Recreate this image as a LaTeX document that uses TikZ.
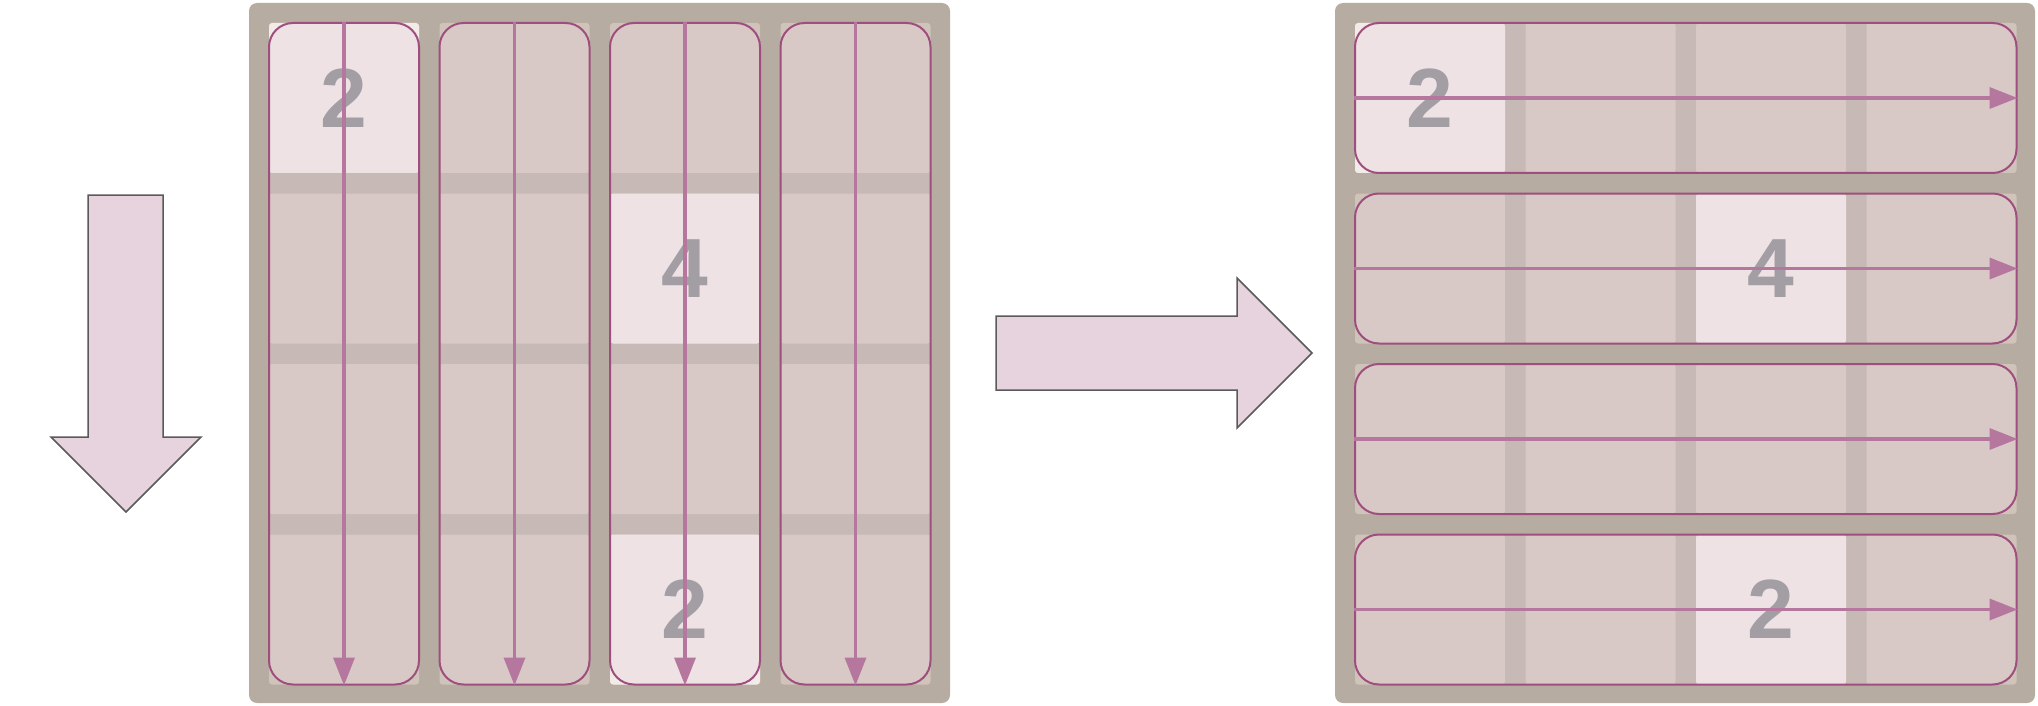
\documentclass[tikz,border=0pt]{standalone}
\usepackage{fontspec}
\setmainfont{Liberation Sans}
\usetikzlibrary{arrows.meta, positioning}

\definecolor{panelgray}{HTML}{B7ACA1}
\definecolor{cellbase}{HTML}{D0C3B9}
\definecolor{cellhot}{HTML}{F3EBE7}
\definecolor{lanefill}{HTML}{E7D3DF}
\definecolor{laneline}{HTML}{9E4F7E}
\definecolor{flowline}{HTML}{B5779E}
\definecolor{digitgray}{HTML}{A39DA4}
\definecolor{bigfill}{HTML}{E6D3DD}
\definecolor{bigline}{HTML}{5A5A5A}

\begin{document}
\begin{tikzpicture}[
        x=1pt, y=-1pt,
        panel/.style={fill=panelgray, rounded corners=8pt},
        cell/.style={rectangle, minimum size=150pt, inner sep=0pt, rounded corners=3pt, fill=cellbase},
        hot/.style={fill=cellhot},
        lane/.style={rectangle, draw=laneline, line width=2pt, fill=lanefill, fill opacity=0.35, rounded corners=24pt, inner sep=0pt},
        flow/.style={draw=flowline, line width=3.5pt, -{Triangle[width=21pt, length=28pt]}},
        digit/.style={text=digitgray, font=\fontsize{84}{84}\selectfont\bfseries},
        bigarrow/.style={fill=bigfill, draw=bigline, line width=1.5pt, line join=miter}
    ]
    \useasboundingbox (0,0) rectangle (2038,706);

    % Big arrow pointing down
    \draw[bigarrow] (88,195) -- (163,195) -- (163,437) -- (201,437) -- (126,512)
        -- (51,437) -- (88,437) -- cycle;

    % Big arrow pointing right
    \draw[bigarrow] (996,316) -- (1237,316) -- (1237,278) -- (1312,353) -- (1237,428)
        -- (1237,390) -- (996,390) -- cycle;

    % Panels
    \fill[panel] (249,3) rectangle (950,703);
    \fill[panel] (1335,3) rectangle (2035,703);

    % Cells of both grids
    \foreach \r in {1,...,4}
        \foreach \c in {1,...,4} {
            \node[cell] (L-\r-\c) at ({344+170.5*(\c-1)}, {98+170.5*(\r-1)}) {};
            \node[cell] (R-\r-\c) at ({1430+170.5*(\c-1)}, {98+170.5*(\r-1)}) {};
        }

    % Marked cells
    \foreach \r/\c in {1/1, 2/3, 4/3} {
        \node[cell, hot] (Lh-\r-\c) at (L-\r-\c) {};
        \node[cell, hot] (Rh-\r-\c) at (R-\r-\c) {};
    }

    % Columns (left) and rows (right)
    \foreach \k in {1,...,4} {
        \node[lane, minimum width=150pt, minimum height=661.5pt]
            (Lcol\k) at ({344+170.5*(\k-1)}, 353.75) {};
        \node[lane, minimum width=661.5pt, minimum height=150pt]
            (Rrow\k) at (1685.75, {98+170.5*(\k-1)}) {};
    }

    % Values
    \node[digit] (Ld1) at (L-1-1) {2};
    \node[digit] (Ld2) at (L-2-3) {4};
    \node[digit] (Ld3) at (L-4-3) {2};
    \node[digit] (Rd1) at (R-1-1) {2};
    \node[digit] (Rd2) at (R-2-3) {4};
    \node[digit] (Rd3) at (R-4-3) {2};

    % Reading order
    \foreach \k in {1,...,4} {
        \draw[flow] (Lcol\k.north) -- (Lcol\k.south);
        \draw[flow] (Rrow\k.west) -- (Rrow\k.east);
    }

\end{tikzpicture}
\end{document}
